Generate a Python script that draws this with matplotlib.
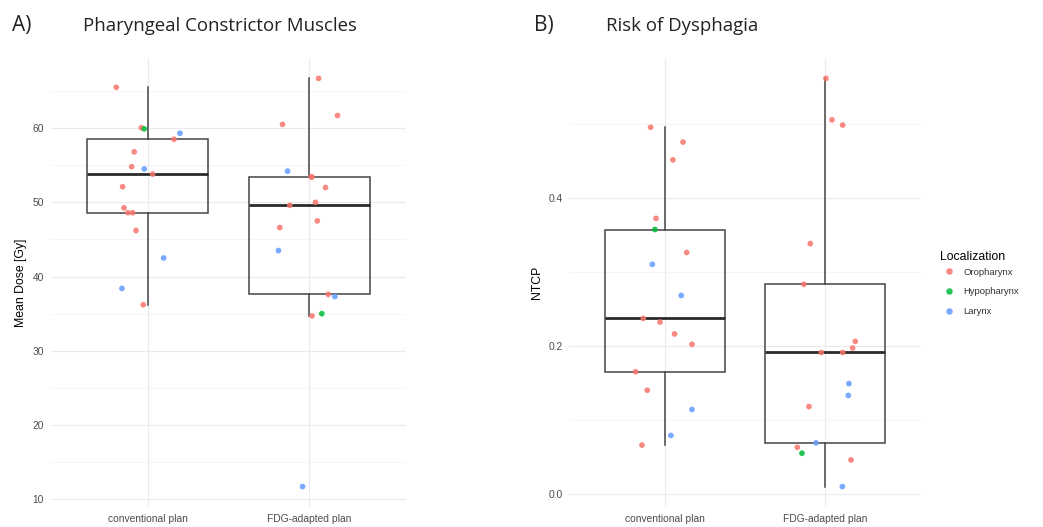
import matplotlib
matplotlib.use('Agg')
import matplotlib.pyplot as plt
from matplotlib.lines import Line2D

# plans on the x axis
plans = ['conventional plan', 'FDG-adapted plan']

# A) mean dose to the pharyngeal constrictor muscles [Gy]
dose_conv = [65.5, 60.05, 59.9, 59.3, 58.5, 56.8, 54.8, 54.5, 53.8, 52.1,
             49.25, 48.6, 48.6, 46.2, 42.5, 38.4, 36.2]
dose_conv_loc = ['O', 'O', 'H', 'L', 'O', 'O', 'O', 'L', 'O', 'O',
                 'O', 'O', 'O', 'O', 'L', 'L', 'O']
dose_conv_jit = [-0.194, -0.039, -0.021, 0.200, 0.163, -0.083, -0.099, -0.021, 0.031, -0.155,
                 -0.146, -0.122, -0.093, -0.072, 0.099, -0.159, -0.027]

dose_fdg = [66.7, 61.7, 60.5, 54.2, 53.4, 53.45, 52.0, 50.0, 49.6, 47.5,
            46.6, 43.5, 37.6, 37.3, 35.0, 34.7, 11.7]
dose_fdg_loc = ['O', 'O', 'O', 'L', 'O', 'O', 'O', 'O', 'O', 'O',
                'O', 'L', 'O', 'L', 'H', 'O', 'L']
dose_fdg_jit = [0.058, 0.175, -0.165, -0.134, 0.017, 0.012, 0.101, 0.039, -0.120, 0.050,
                -0.182, -0.190, 0.118, 0.159, 0.078, 0.017, -0.041]

# B) NTCP for dysphagia
ntcp_conv = [0.495, 0.475, 0.451, 0.372, 0.357, 0.326, 0.310, 0.268, 0.237, 0.232,
             0.216, 0.202, 0.165, 0.140, 0.114, 0.079, 0.066]
ntcp_conv_loc = ['O', 'O', 'O', 'O', 'H', 'O', 'L', 'L', 'O', 'O',
                 'O', 'O', 'O', 'O', 'L', 'L', 'O']
ntcp_conv_jit = [-0.092, 0.111, 0.048, -0.058, -0.065, 0.134, -0.081, 0.100, -0.138, -0.033,
                 0.058, 0.167, -0.186, -0.113, 0.167, 0.035, -0.146]

ntcp_fdg = [0.561, 0.505, 0.498, 0.338, 0.283, 0.206, 0.197, 0.191, 0.191, 0.149,
            0.133, 0.118, 0.069, 0.063, 0.055, 0.046, 0.010]
ntcp_fdg_loc = ['O', 'O', 'O', 'O', 'O', 'O', 'O', 'O', 'O', 'L',
                'L', 'O', 'L', 'O', 'H', 'O', 'L']
ntcp_fdg_jit = [0.006, 0.044, 0.111, -0.092, -0.132, 0.190, 0.173, -0.023, 0.111, 0.150,
                0.146, -0.100, -0.056, -0.173, -0.144, 0.163, 0.109]

loc_names = {'O': 'Oropharynx', 'H': 'Hypopharynx', 'L': 'Larynx'}
loc_colors = {'O': '#F8766D', 'H': '#00BA38', 'L': '#619CFF'}

plt.rcParams['font.family'] = ['Liberation Sans', 'DejaVu Sans']

fig = plt.figure(figsize=(10.43, 5.27), dpi=100)
ax1 = fig.add_axes([0.0486, 0.038, 0.3408, 0.852])
ax2 = fig.add_axes([0.546, 0.038, 0.3368, 0.852])


def draw_panel(ax, groups, locs, jits, ylabel, major, minor):
    # theme_minimal style grid
    for y in minor:
        ax.axhline(y, color='#f4f4f4', lw=0.6, zorder=0)
    for y in major:
        ax.axhline(y, color='#ebebeb', lw=0.8, zorder=0)
    for x in (1, 2):
        ax.axvline(x, color='#ebebeb', lw=0.8, zorder=0)

    line = dict(color='#444444', linewidth=1.1)
    ax.boxplot(groups, positions=[1, 2], widths=0.75, showfliers=False,
               showcaps=False, whis=1.5, patch_artist=True,
               boxprops=dict(facecolor='none', edgecolor='#444444', linewidth=1.1),
               whiskerprops=line,
               medianprops=dict(color='#2a2a2a', linewidth=2.0),
               zorder=2)

    for i, (vals, lc, jt) in enumerate(zip(groups, locs, jits)):
        xs = [i + 1 + j for j in jt]
        cols = [loc_colors[c] for c in lc]
        ax.scatter(xs, vals, s=17, c=cols, alpha=0.85, linewidths=0, zorder=3)

    lo = min(min(g) for g in groups)
    hi = max(max(g) for g in groups)
    pad = (hi - lo) * 0.05
    ax.set_ylim(lo - pad, hi + pad)
    ax.set_xlim(0.4, 2.6)
    ax.set_xticks([1, 2])
    ax.set_xticklabels(plans)
    ax.set_yticks(major)
    ax.set_ylabel(ylabel, fontsize=8.8, color='black', labelpad=4)
    ax.tick_params(length=0, labelsize=7.4, labelcolor='#4d4d4d', pad=5)
    for s in ax.spines.values():
        s.set_visible(False)


draw_panel(ax1, [dose_conv, dose_fdg], [dose_conv_loc, dose_fdg_loc],
           [dose_conv_jit, dose_fdg_jit], 'Mean Dose [Gy]',
           [10, 20, 30, 40, 50, 60], [15, 25, 35, 45, 55, 65])
ax1.set_yticklabels(['10', '20', '30', '40', '50', '60'])

draw_panel(ax2, [ntcp_conv, ntcp_fdg], [ntcp_conv_loc, ntcp_fdg_loc],
           [ntcp_conv_jit, ntcp_fdg_jit], 'NTCP',
           [0.0, 0.2, 0.4], [0.1, 0.3, 0.5])
ax2.set_yticklabels(['0.0', '0.2', '0.4'])

# panel titles
title_font = ['Open Sans', 'DejaVu Sans']
fig.text(12 / 1043, 1 - 26 / 527, 'A)', fontsize=15, family=title_font,
         color='#222222', va='center')
fig.text(83 / 1043, 1 - 26 / 527, 'Pharyngeal Constrictor Muscles', fontsize=13.4,
         family=title_font, color='#222222', va='center')
fig.text(534 / 1043, 1 - 26 / 527, 'B)', fontsize=15, family=title_font,
         color='#222222', va='center')
fig.text(606 / 1043, 1 - 26 / 527, 'Risk of Dysphagia', fontsize=13.4,
         family=title_font, color='#222222', va='center')

# legend: title drawn separately so the entries sit close under it
fig.text(940 / 1043, 1 - 257 / 527, 'Localization', fontsize=8.8,
         color='black', va='center')
handles = [Line2D([], [], marker='o', ls='', markersize=4.7, alpha=0.85,
                  markerfacecolor=loc_colors[k], markeredgewidth=0,
                  label=loc_names[k]) for k in ['O', 'H', 'L']]
leg = fig.legend(handles=handles, loc='upper left',
                 bbox_to_anchor=(937 / 1043, 1 - 260 / 527), frameon=False,
                 fontsize=6.8, handletextpad=1.0, borderpad=0.3,
                 labelspacing=1.15, handlelength=1.0)
for t in leg.get_texts():
    t.set_color('#333333')

fig.savefig('out.png', dpi=100)
